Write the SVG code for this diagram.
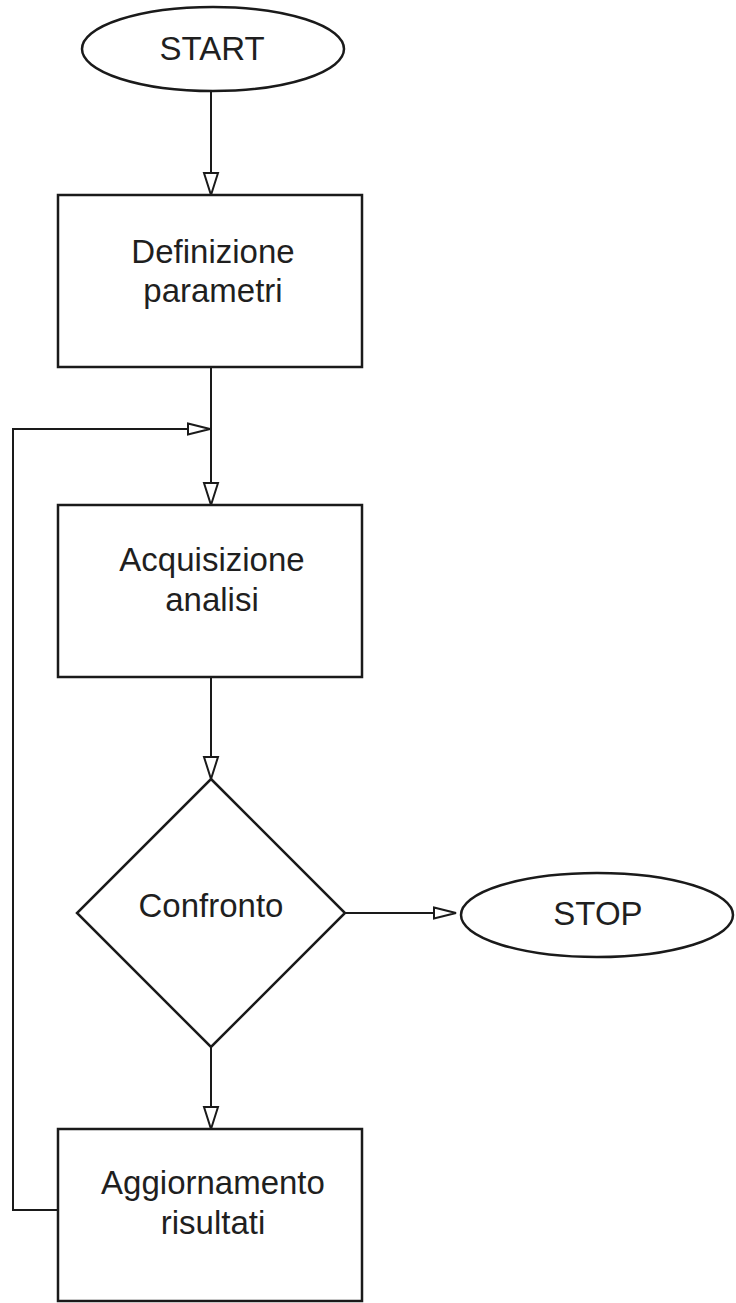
<svg xmlns="http://www.w3.org/2000/svg" width="736" height="1303" viewBox="0 0 736 1303">
  <style>
    .shape { fill: #ffffff; stroke: #1a1a1a; stroke-width: 2.5; }
    .conn { fill: none; stroke: #1a1a1a; stroke-width: 2; }
    .label { font-family: "Liberation Sans", Arial, sans-serif; font-size: 33px; fill: #1f1f1f; text-anchor: middle; }
  </style>
  <defs>
    <marker id="arrV" markerUnits="userSpaceOnUse" markerWidth="26" markerHeight="18" viewBox="-2 -2 26 18" refX="22" refY="7" orient="auto">
      <path d="M0,0 L22,7 L0,14 Z" fill="#ffffff" stroke="#1a1a1a" stroke-width="2"/>
    </marker>
    <marker id="arrH" markerUnits="userSpaceOnUse" markerWidth="26" markerHeight="16" viewBox="-2 -2 26 16" refX="22" refY="5.5" orient="auto">
      <path d="M0,0 L22,5.5 L0,11 Z" fill="#ffffff" stroke="#1a1a1a" stroke-width="2"/>
    </marker>
  </defs>
  <rect width="736" height="1303" fill="#ffffff"/>

  <g id="connectors">
    <line class="conn" x1="211" y1="91" x2="211" y2="195" marker-end="url(#arrV)"/>
    <line class="conn" x1="211" y1="367" x2="211" y2="505" marker-end="url(#arrV)"/>
    <line class="conn" x1="211" y1="677" x2="211" y2="779" marker-end="url(#arrV)"/>
    <line class="conn" x1="211" y1="1047" x2="211" y2="1129" marker-end="url(#arrV)"/>
    <line class="conn" x1="345" y1="913" x2="456" y2="913" marker-end="url(#arrH)"/>
    <polyline class="conn" points="58,1210 13,1210 13,429 210,429" marker-end="url(#arrH)"/>
  </g>

  <g id="start">
    <ellipse class="shape" cx="213" cy="49" rx="131" ry="42"/>
    <text class="label" x="212" y="60">START</text>
  </g>

  <g id="definizione">
    <rect class="shape" x="58" y="195" width="304" height="172"/>
    <text class="label" x="213" y="263">Definizione</text>
    <text class="label" x="213" y="302">parametri</text>
  </g>

  <g id="acquisizione">
    <rect class="shape" x="58" y="505" width="304" height="172"/>
    <text class="label" x="212" y="571">Acquisizione</text>
    <text class="label" x="212" y="611">analisi</text>
  </g>

  <g id="confronto">
    <polygon class="shape" points="211,779 345,913 211,1047 77,913"/>
    <text class="label" x="211" y="917">Confronto</text>
  </g>

  <g id="stop">
    <ellipse class="shape" cx="597" cy="915" rx="136" ry="42"/>
    <text class="label" x="598" y="925">STOP</text>
  </g>

  <g id="aggiornamento">
    <rect class="shape" x="58" y="1129" width="304" height="172"/>
    <text class="label" x="213" y="1194">Aggiornamento</text>
    <text class="label" x="213" y="1234">risultati</text>
  </g>
</svg>
